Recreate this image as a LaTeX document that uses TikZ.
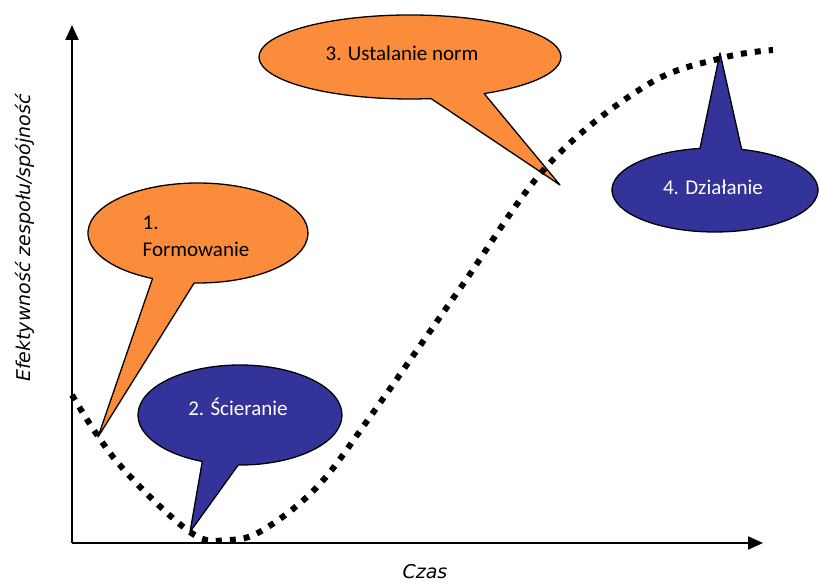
\documentclass[tikz,border=0pt]{standalone}
\usepackage{fontspec}
\usepackage{tikz}
\usetikzlibrary{arrows.meta}
\newfontfamily\calloutfont{Carlito}
\newfontfamily\axisfont{DejaVu Sans}
\definecolor{orangecall}{RGB}{250,140,60}
\definecolor{bluecall}{RGB}{51,51,153}
\tikzset{
  axis/.style={line width=2pt, -{Triangle[length=15pt,width=13pt]}},
  bubble/.style={draw=black, line width=1.3pt, line join=round},
  bubbletext/.style={font=\calloutfont\fontsize{21}{27}\selectfont},
  axislabel/.style={font=\axisfont\itshape\fontsize{19}{23}\selectfont},
  curve/.style={line width=6pt, dash pattern=on 6pt off 8pt}
}

\begin{document}
\begin{tikzpicture}[x=1pt,y=1pt]
\useasboundingbox (0,0) rectangle (820,585);
\coordinate (o) at (72,42);
\coordinate (ytop) at (72,560);
\coordinate (xend) at (763,42);
\draw[axis] (o) -- (ytop);
\draw[axis] (o) -- (xend);
\node[axislabel, rotate=90] (ylab) at (25,347) {Efektywność zespołu/spójność};
\node[axislabel] (xlab) at (425,13) {Czas};

\coordinate (c1) at (198,352);
\coordinate (t1) at (98,148);
\filldraw[bubble, fill=orangecall] (c1) ++(268:110 and 50) arc[start angle=268, end angle=605.6, x radius=110, y radius=50] -- (t1) -- cycle;
\node[bubbletext, align=left] (forming) at (196,349) {1.\\Formowanie};

\coordinate (c2) at (240,170);
\coordinate (t2) at (190,53);
\filldraw[bubble, fill=bluecall] (c2) ++(269:102 and 50) arc[start angle=269, end angle=608.3, x radius=102, y radius=50] -- (t2) -- cycle;
\node[bubbletext, text=white] (storming) at (238,178) {2. Ścieranie};

\coordinate (c3) at (410,528);
\coordinate (t3) at (560,400);
\filldraw[bubble, fill=orangecall] (c3) ++(299.4:151 and 42) arc[start angle=299.4, end angle=638, x radius=151, y radius=42] -- (t3) -- cycle;
\node[bubbletext] (norming) at (402,532) {3. Ustalanie norm};

\coordinate (c4) at (715,395);
\coordinate (t4) at (720,532);
\filldraw[bubble, fill=bluecall] (c4) ++(98.4:103 and 42) arc[start angle=98.4, end angle=435, x radius=103, y radius=42] -- (t4) -- cycle;
\node[bubbletext, text=white] (performing) at (713,398) {4. Działanie};

\draw[curve] plot[smooth, tension=0.6] coordinates {(72,190) (118,122) (190,53) (228,45) (263,55) (317,98) (370,168) (459,295) (548,420) (647,500) (722,527) (773,535)};
\end{tikzpicture}
\end{document}
